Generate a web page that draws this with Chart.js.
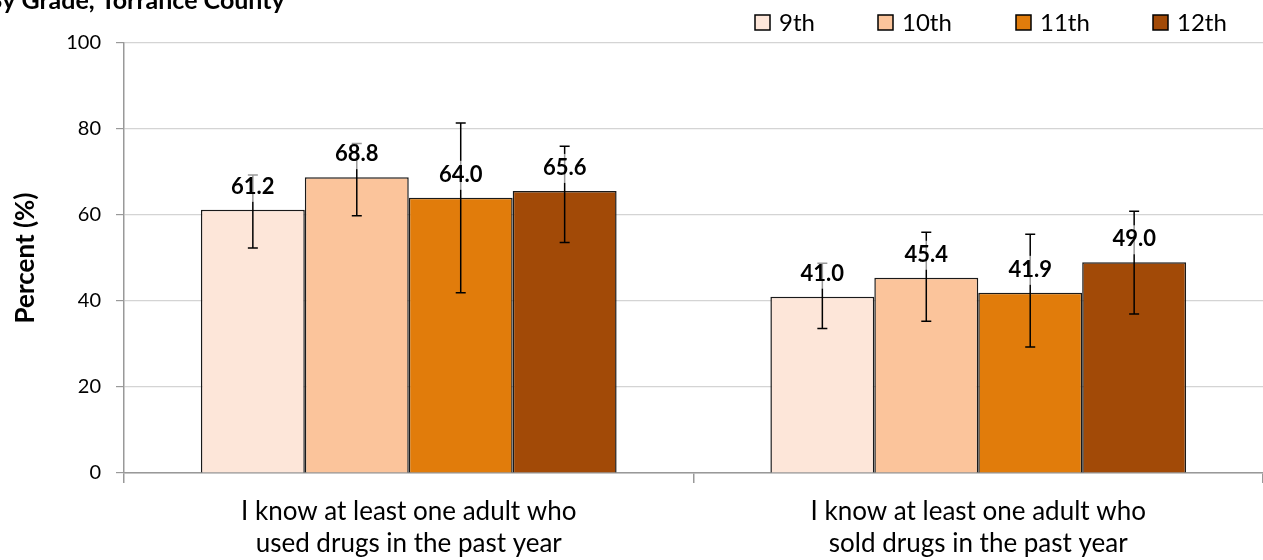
<!DOCTYPE html>
<html>
<head>
<meta charset="utf-8">
<script src="https://cdn.jsdelivr.net/npm/chart.js"></script>
<style>
  html, body { margin: 0; padding: 0; background: #fff; }
  #wrap { width: 1263px; height: 560px; }
</style>
</head>
<body>
<div id="wrap"><canvas id="drugsChart" width="1263" height="560"></canvas></div>
<script>
// data
const categories = [
  ["I know at least one adult who", "used drugs in the past year"],
  ["I know at least one adult who", "sold drugs in the past year"]
];
const grades = ["9th", "10th", "11th", "12th"];
const grade9 = [61.2, 41.0];
const grade10 = [68.8, 45.4];
const grade11 = [64.0, 41.9];
const grade12 = [65.6, 49.0];
const low9 = [52.3, 33.6];
const low10 = [59.8, 35.3];
const low11 = [41.9, 29.3];
const low12 = [53.6, 37.0];
const high9 = [69.3, 48.8];
const high10 = [76.6, 56.0];
const high11 = [81.4, 55.5];
const high12 = [76.0, 60.9];
const yTicks = [0, 20, 40, 60, 80, 100];

const colors = ["#fde6d9", "#fbc49b", "#e17c0b", "#a24a07"];
const values = [grade9, grade10, grade11, grade12];
const lows = [low9, low10, low11, low12];
const highs = [high9, high10, high11, high12];

const FONT = "Lato";

const datasets = grades.map((g, i) => ({
  label: g,
  data: values[i],
  low: lows[i],
  high: highs[i],
  backgroundColor: colors[i],
  borderColor: "#1a1a1a",
  borderWidth: 1.5,
  categoryPercentage: 0.73,
  barPercentage: 1.0
}));

// error bars + value labels
const errorBars = {
  id: "errorBars",
  afterDatasetsDraw(chart) {
    const ctx = chart.ctx;
    const y = chart.scales.y;
    ctx.save();
    ctx.strokeStyle = "#000";
    ctx.lineWidth = 1.5;
    chart.data.datasets.forEach((ds, di) => {
      chart.getDatasetMeta(di).data.forEach((bar, i) => {
        const yl = y.getPixelForValue(ds.low[i]);
        const yh = y.getPixelForValue(ds.high[i]);
        ctx.beginPath();
        ctx.moveTo(bar.x, yl); ctx.lineTo(bar.x, yh);
        ctx.moveTo(bar.x - 5, yl); ctx.lineTo(bar.x + 5, yl);
        ctx.moveTo(bar.x - 5, yh); ctx.lineTo(bar.x + 5, yh);
        ctx.stroke();
      });
    });
    // labels over the bars with a faint white box
    ctx.font = "bold 22px " + FONT;
    ctx.textAlign = "center";
    ctx.textBaseline = "middle";
    chart.data.datasets.forEach((ds, di) => {
      chart.getDatasetMeta(di).data.forEach((bar, i) => {
        const txt = ds.data[i].toFixed(1);
        const w = ctx.measureText(txt).width;
        const cy = bar.y - 24;
        ctx.fillStyle = "rgba(255,255,255,0.6)";
        ctx.fillRect(bar.x - w / 2 - 3, cy - 13, w + 6, 29);
        ctx.fillStyle = "#000";
        ctx.fillText(txt, bar.x, cy + 1);
      });
    });
    ctx.restore();
  }
};

// clipped title and Excel-style legend
const extras = {
  id: "extras",
  afterDraw(chart) {
    const ctx = chart.ctx;
    ctx.save();
    ctx.fillStyle = "#000";
    ctx.font = "bold 25px " + FONT;
    ctx.textAlign = "left";
    ctx.textBaseline = "alphabetic";
    ctx.fillText("By Grade, Torrance County", -14, 9);

    const cols = [123, 138, 137, 137];
    let x = 755;
    ctx.font = "24px " + FONT;
    ctx.textBaseline = "middle";
    grades.forEach((g, i) => {
      ctx.fillStyle = colors[i];
      ctx.fillRect(x, 15, 15, 15);
      ctx.strokeStyle = "#000";
      ctx.lineWidth = 1.5;
      ctx.strokeRect(x, 15, 15, 15);
      ctx.fillStyle = "#000";
      ctx.fillText(g, x + 24, 23);
      x += cols[i];
    });
    ctx.restore();
  }
};

new Chart(document.getElementById("drugsChart"), {
  type: "bar",
  data: { labels: categories, datasets: datasets },
  options: {
    responsive: false,
    animation: false,
    layout: { padding: { top: 43, left: 0, right: 0, bottom: 0 } },
    plugins: { legend: { display: false }, tooltip: { enabled: false } },
    scales: {
      x: {
        offset: true,
        grid: { drawOnChartArea: false, offset: true, tickLength: 10, tickColor: "#999", lineWidth: 1.5 },
        border: { color: "#999", width: 1.5 },
        ticks: { color: "#000", font: { family: FONT, size: 26, lineHeight: 1.22 }, padding: 13, maxRotation: 0 },
        afterFit(s) { s.height = 87; }
      },
      y: {
        min: 0,
        max: 100,
        afterBuildTicks(s) { s.ticks = yTicks.map(v => ({ value: v })); },
        grid: { color: "#d4d4d4", lineWidth: 1.2, tickLength: 8, tickColor: "#999" },
        border: { color: "#999", width: 1.5 },
        ticks: { color: "#000", font: { family: FONT, size: 20 }, padding: 15 },
        title: { display: true, text: "Percent (%)", color: "#000", font: { family: FONT, size: 26, weight: "bold" }, padding: { top: 10, bottom: 0 } },
        afterFit(s) { s.width = 124; }
      }
    }
  },
  plugins: [errorBars, extras]
});
</script>
</body>
</html>
